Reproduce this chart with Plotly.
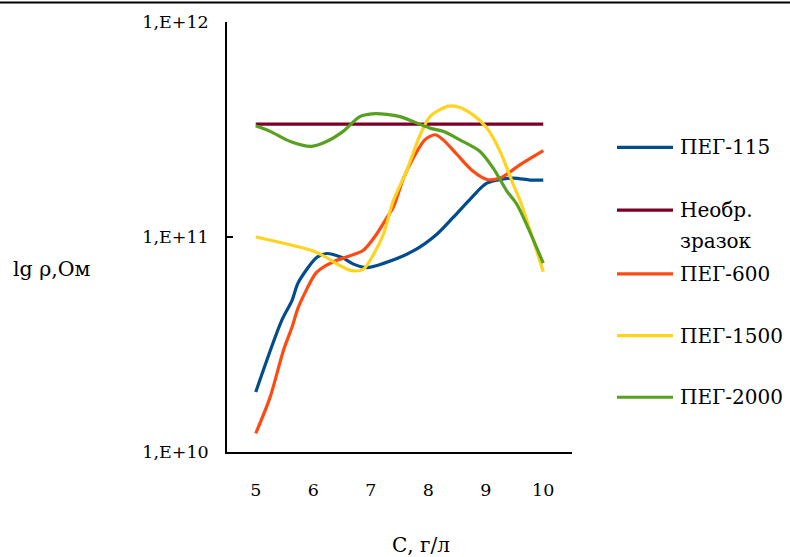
import plotly.graph_objects as go

# ---- data (x in g/l, y in Ohm) ----
x_peg115 = [5.0, 5.45, 5.63, 5.74, 6.06, 6.23, 6.5, 6.7, 6.93, 7.21, 7.74, 8.15, 8.43, 8.73, 9.02, 9.47, 9.77, 10.0]
y_peg115 = [1.9e10, 4.08e10, 5.06e10, 6.14e10, 8.02e10, 8.38e10, 8.02e10, 7.48e10, 7.21e10, 7.52e10,
            8.61e10, 1.03e11, 1.23e11, 1.50e11, 1.78e11, 1.88e11, 1.84e11, 1.84e11]

x_untreated = [5.0, 10.0]
y_untreated = [3.35e11, 3.35e11]

x_peg600 = [5.0, 5.25, 5.48, 5.63, 5.74, 6.03, 6.12, 6.38, 6.64, 6.87, 7.1, 7.28, 7.39, 7.57, 7.74,
            7.94, 8.12, 8.26, 8.5, 8.78, 9.02, 9.25, 9.6, 10.0]
y_peg600 = [1.22e10, 1.80e10, 2.96e10, 3.80e10, 4.71e10, 6.71e10, 7.08e10, 7.74e10, 8.17e10, 8.67e10,
            1.03e11, 1.23e11, 1.37e11, 1.88e11, 2.33e11, 2.83e11, 2.99e11, 2.83e11, 2.42e11, 2.02e11,
            1.85e11, 1.88e11, 2.17e11, 2.52e11]

x_peg1500 = [5.0, 6.0, 6.23, 6.47, 6.67, 6.87, 7.05, 7.22, 7.39, 7.62, 7.86, 8.03, 8.32, 8.5, 8.78,
             9.02, 9.25, 9.48, 9.6, 10.0]
y_peg1500 = [1.0e11, 8.61e10, 8.02e10, 7.35e10, 6.97e10, 7.08e10, 8.32e10, 1.03e11, 1.47e11, 2.02e11,
             2.99e11, 3.63e11, 4.04e11, 4.04e11, 3.70e11, 3.21e11, 2.50e11, 1.75e11, 1.47e11, 6.9e10]

x_peg2000 = [5.0, 5.25, 5.6, 5.97, 6.23, 6.52, 6.81, 7.02, 7.28, 7.51, 8.03, 8.26, 8.55, 8.9, 9.13,
             9.37, 9.54, 10.0]
y_peg2000 = [3.29e11, 3.10e11, 2.78e11, 2.64e11, 2.78e11, 3.10e11, 3.63e11, 3.74e11, 3.72e11, 3.63e11,
             3.21e11, 3.10e11, 2.83e11, 2.50e11, 2.09e11, 1.63e11, 1.42e11, 7.55e10]

series_names = ["ПЕГ-115", "Необр.<br>зразок", "ПЕГ-600", "ПЕГ-1500", "ПЕГ-2000"]
series_x = [x_peg115, x_untreated, x_peg600, x_peg1500, x_peg2000]
series_y = [y_peg115, y_untreated, y_peg600, y_peg1500, y_peg2000]
series_colors = ["#004C8C", "#7B0025", "#FF4A12", "#FFD320", "#57A020"]

x_ticks = [5, 6, 7, 8, 9, 10]
y_ticks = [1e10, 1e11, 1e12]
y_tick_text = ["1,E+10", "1,E+11", "1,E+12"]

FONT = "DejaVu Serif"

W, H = 790, 557
L, R, T, B = 227, 218, 20, 105
pw, ph = W - L - R, H - T - B


def px_x(p):
    return (p - L) / pw


def px_y(p):
    return 1 - (p - T) / ph


fig = go.Figure()
for name, xs, ys, col in zip(series_names, series_x, series_y, series_colors):
    fig.add_trace(go.Scatter(x=xs, y=ys, name=name, mode="lines", showlegend=False,
                             line=dict(color=col, width=3.2, shape="spline", smoothing=0.8)))

# legend drawn as line samples + labels, laid out like the original
legend_rows = [146, 209, 273, 335, 397]
shapes = []
annotations = []
for name, col, yrow in zip(series_names, series_colors, legend_rows):
    shapes.append(dict(type="line", xref="paper", yref="paper",
                       x0=px_x(617), x1=px_x(673), y0=px_y(yrow), y1=px_y(yrow),
                       line=dict(color=col, width=3.2)))
    lines = name.split("<br>")
    for i, t in enumerate(lines):
        annotations.append(dict(text=t, x=px_x(678), y=px_y(yrow + i * 31), xref="paper", yref="paper",
                                showarrow=False, xanchor="left", yanchor="middle",
                                font=dict(family=FONT, size=20, color="black")))

annotations.append(dict(text="lg ρ,Ом", x=px_x(11), y=px_y(268), xref="paper", yref="paper",
                        showarrow=False, xanchor="left", yanchor="middle",
                        font=dict(family=FONT, size=20.5, color="black")))
annotations.append(dict(text="С, г/л", x=px_x(421), y=px_y(545), xref="paper", yref="paper",
                        showarrow=False, xanchor="center", yanchor="middle",
                        font=dict(family=FONT, size=20, color="black")))

# top border of the chart area
shapes.append(dict(type="line", xref="paper", yref="paper", x0=px_x(0), x1=px_x(W),
                   y0=px_y(0.5), y1=px_y(0.5), line=dict(color="black", width=2)))

fig.update_layout(
    width=W, height=H,
    margin=dict(l=L, r=R, t=T, b=B),
    paper_bgcolor="white", plot_bgcolor="white",
    font=dict(family=FONT, size=17.5, color="black"),
    showlegend=False,
    xaxis=dict(range=[4.5, 10.5], tickvals=x_ticks, ticktext=[str(v) for v in x_ticks],
               showgrid=False, zeroline=False, showline=True, linecolor="black", linewidth=1.5,
               ticks="", ticklabelstandoff=21, tickfont=dict(family=FONT, size=17.5, color="black")),
    yaxis=dict(type="log", range=[10, 12], tickvals=y_ticks, ticktext=y_tick_text,
               showgrid=False, zeroline=False, showline=True, linecolor="black", linewidth=1.5,
               ticks="inside", ticklen=6, tickcolor="black", tickwidth=1.5,
               ticklabelstandoff=13, tickfont=dict(family=FONT, size=17.5, color="black")),
    annotations=annotations,
    shapes=shapes,
)

fig.write_html("out.html")
